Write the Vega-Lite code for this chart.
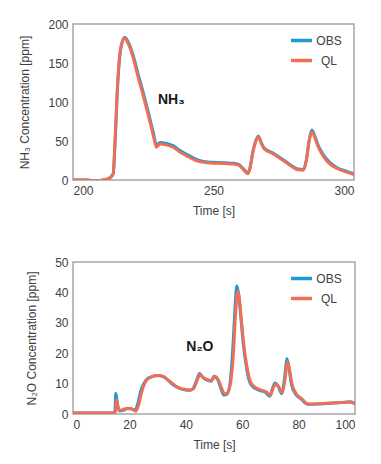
{
  "$schema": "https://vega.github.io/schema/vega-lite/v6.json",
  "padding": {"left": 18, "top": 17, "right": 5, "bottom": 5},
  "spacing": 38,
  "config": {
    "font": "Liberation Sans",
    "view": {"stroke": "#a6a6a6", "strokeWidth": 1.5},
    "axis": {"grid": false, "domain": false, "ticks": false, "labelFontSize": 12, "labelColor": "#404040", "titleFontSize": 12, "titleFontWeight": "normal", "titleColor": "#404040", "labelPadding": 5},
    "axisY": {"titlePadding": 16},
    "axisX": {"titlePadding": 9},
    "legend": {"orient": "none", "legendX": 216, "legendY": 4, "title": null, "symbolType": "stroke", "symbolSize": 441, "symbolStrokeWidth": 3.5, "labelFontSize": 12, "labelColor": "#404040", "rowPadding": -9, "labelOffset": 15, "labelAlign": "center"}
  },
  "datasets": {
    "nh3": [
      {"t":200,"c":0,"s":"OBS"},{"t":205,"c":0,"s":"OBS"},{"t":208,"c":-1,"s":"OBS"},{"t":210,"c":-0.5,"s":"OBS"},{"t":212,"c":1,"s":"OBS"},{"t":213.5,"c":4,"s":"OBS"},{"t":214.3,"c":8,"s":"OBS"},{"t":215,"c":50,"s":"OBS"},{"t":216,"c":128,"s":"OBS"},{"t":217,"c":168,"s":"OBS"},{"t":218.4,"c":183,"s":"OBS"},{"t":219.5,"c":178,"s":"OBS"},{"t":221.4,"c":160,"s":"OBS"},{"t":223,"c":138,"s":"OBS"},{"t":225,"c":112,"s":"OBS"},{"t":227,"c":84,"s":"OBS"},{"t":228.5,"c":62,"s":"OBS"},{"t":229.7,"c":45,"s":"OBS"},{"t":231,"c":48,"s":"OBS"},{"t":233,"c":47,"s":"OBS"},{"t":235.6,"c":44,"s":"OBS"},{"t":238,"c":38,"s":"OBS"},{"t":240.4,"c":33,"s":"OBS"},{"t":243,"c":28,"s":"OBS"},{"t":245,"c":25,"s":"OBS"},{"t":248,"c":23,"s":"OBS"},{"t":251,"c":22.5,"s":"OBS"},{"t":254,"c":22,"s":"OBS"},{"t":257,"c":21.5,"s":"OBS"},{"t":259,"c":20,"s":"OBS"},{"t":260.5,"c":15,"s":"OBS"},{"t":262.2,"c":9,"s":"OBS"},{"t":263,"c":16,"s":"OBS"},{"t":264,"c":36,"s":"OBS"},{"t":265,"c":50,"s":"OBS"},{"t":266,"c":56,"s":"OBS"},{"t":267,"c":48,"s":"OBS"},{"t":268,"c":41,"s":"OBS"},{"t":271,"c":35,"s":"OBS"},{"t":274,"c":28,"s":"OBS"},{"t":276,"c":23,"s":"OBS"},{"t":278,"c":18,"s":"OBS"},{"t":280,"c":14,"s":"OBS"},{"t":282,"c":13.5,"s":"OBS"},{"t":283,"c":25,"s":"OBS"},{"t":284,"c":50,"s":"OBS"},{"t":285,"c":64,"s":"OBS"},{"t":286,"c":57,"s":"OBS"},{"t":287.3,"c":44,"s":"OBS"},{"t":289,"c":33,"s":"OBS"},{"t":291,"c":24,"s":"OBS"},{"t":293.8,"c":16,"s":"OBS"},{"t":297.4,"c":11,"s":"OBS"},{"t":300,"c":8,"s":"OBS"},
      {"t":200,"c":0,"s":"QL"},{"t":205,"c":0,"s":"QL"},{"t":208,"c":-1,"s":"QL"},{"t":210,"c":-0.5,"s":"QL"},{"t":212,"c":1,"s":"QL"},{"t":213.5,"c":4,"s":"QL"},{"t":214.3,"c":8,"s":"QL"},{"t":215,"c":55,"s":"QL"},{"t":216,"c":132,"s":"QL"},{"t":217,"c":170,"s":"QL"},{"t":218.3,"c":182,"s":"QL"},{"t":219.5,"c":176,"s":"QL"},{"t":221.4,"c":157,"s":"QL"},{"t":223,"c":134,"s":"QL"},{"t":225,"c":108,"s":"QL"},{"t":227,"c":80,"s":"QL"},{"t":228.5,"c":58,"s":"QL"},{"t":229.7,"c":42,"s":"QL"},{"t":231,"c":46,"s":"QL"},{"t":233,"c":45,"s":"QL"},{"t":235.6,"c":42,"s":"QL"},{"t":238,"c":36,"s":"QL"},{"t":240.4,"c":31,"s":"QL"},{"t":243,"c":26,"s":"QL"},{"t":245,"c":23.5,"s":"QL"},{"t":248,"c":22,"s":"QL"},{"t":251,"c":21.5,"s":"QL"},{"t":254,"c":21,"s":"QL"},{"t":257,"c":20.5,"s":"QL"},{"t":259,"c":19,"s":"QL"},{"t":260.5,"c":14,"s":"QL"},{"t":262.2,"c":8,"s":"QL"},{"t":263,"c":15,"s":"QL"},{"t":264,"c":35,"s":"QL"},{"t":265,"c":49,"s":"QL"},{"t":266,"c":55,"s":"QL"},{"t":267,"c":47,"s":"QL"},{"t":268,"c":40,"s":"QL"},{"t":271,"c":34,"s":"QL"},{"t":274,"c":27,"s":"QL"},{"t":276,"c":22,"s":"QL"},{"t":278,"c":17,"s":"QL"},{"t":280,"c":13,"s":"QL"},{"t":282,"c":12.5,"s":"QL"},{"t":283,"c":24,"s":"QL"},{"t":284,"c":49,"s":"QL"},{"t":285,"c":62,"s":"QL"},{"t":286,"c":55,"s":"QL"},{"t":287.3,"c":42,"s":"QL"},{"t":289,"c":31,"s":"QL"},{"t":291,"c":22,"s":"QL"},{"t":293.8,"c":15,"s":"QL"},{"t":297.4,"c":10,"s":"QL"},{"t":300,"c":7,"s":"QL"}
    ],
    "n2o": [
      {"t":0,"c":0.3,"s":"OBS"},{"t":10,"c":0.3,"s":"OBS"},{"t":14.8,"c":0.3,"s":"OBS"},{"t":15.2,"c":6.8,"s":"OBS"},{"t":15.8,"c":3,"s":"OBS"},{"t":16.5,"c":1,"s":"OBS"},{"t":18,"c":1.3,"s":"OBS"},{"t":19.5,"c":1.8,"s":"OBS"},{"t":21,"c":1.6,"s":"OBS"},{"t":22,"c":1.2,"s":"OBS"},{"t":23,"c":3.5,"s":"OBS"},{"t":24,"c":7.5,"s":"OBS"},{"t":25,"c":9.8,"s":"OBS"},{"t":26,"c":11.3,"s":"OBS"},{"t":28,"c":12.3,"s":"OBS"},{"t":30,"c":12.7,"s":"OBS"},{"t":32,"c":12.3,"s":"OBS"},{"t":34,"c":10.8,"s":"OBS"},{"t":36,"c":9.3,"s":"OBS"},{"t":38.5,"c":8.2,"s":"OBS"},{"t":41.4,"c":7.8,"s":"OBS"},{"t":42.6,"c":8.4,"s":"OBS"},{"t":43.8,"c":11,"s":"OBS"},{"t":44.9,"c":13.3,"s":"OBS"},{"t":46,"c":12,"s":"OBS"},{"t":48,"c":11,"s":"OBS"},{"t":49,"c":10.8,"s":"OBS"},{"t":50,"c":12.4,"s":"OBS"},{"t":51.2,"c":11.5,"s":"OBS"},{"t":52.4,"c":8.5,"s":"OBS"},{"t":53.5,"c":6.2,"s":"OBS"},{"t":54.6,"c":6.5,"s":"OBS"},{"t":55.8,"c":11,"s":"OBS"},{"t":56.7,"c":22,"s":"OBS"},{"t":57.4,"c":34,"s":"OBS"},{"t":58.1,"c":42.2,"s":"OBS"},{"t":58.8,"c":39,"s":"OBS"},{"t":59.6,"c":31,"s":"OBS"},{"t":60.5,"c":22,"s":"OBS"},{"t":61.4,"c":16,"s":"OBS"},{"t":62.3,"c":11.5,"s":"OBS"},{"t":63.5,"c":9.2,"s":"OBS"},{"t":66,"c":7.8,"s":"OBS"},{"t":68.3,"c":7.1,"s":"OBS"},{"t":69.8,"c":5.8,"s":"OBS"},{"t":70.8,"c":8.6,"s":"OBS"},{"t":71.7,"c":10.2,"s":"OBS"},{"t":72.7,"c":9.2,"s":"OBS"},{"t":74,"c":6.7,"s":"OBS"},{"t":75,"c":11.5,"s":"OBS"},{"t":75.9,"c":18.2,"s":"OBS"},{"t":76.6,"c":15,"s":"OBS"},{"t":77.4,"c":10,"s":"OBS"},{"t":79,"c":6.4,"s":"OBS"},{"t":80.8,"c":5,"s":"OBS"},{"t":83.2,"c":3.2,"s":"OBS"},{"t":87.3,"c":3.3,"s":"OBS"},{"t":92,"c":3.6,"s":"OBS"},{"t":96.7,"c":3.9,"s":"OBS"},{"t":98.5,"c":4,"s":"OBS"},{"t":100,"c":3.4,"s":"OBS"},
      {"t":0,"c":0.3,"s":"QL"},{"t":10,"c":0.3,"s":"QL"},{"t":15,"c":0.3,"s":"QL"},{"t":15.4,"c":4.8,"s":"QL"},{"t":16,"c":2.2,"s":"QL"},{"t":16.7,"c":1.2,"s":"QL"},{"t":18,"c":1.6,"s":"QL"},{"t":19.5,"c":1.9,"s":"QL"},{"t":21,"c":1.6,"s":"QL"},{"t":22.3,"c":0.9,"s":"QL"},{"t":23.3,"c":3,"s":"QL"},{"t":24.3,"c":7,"s":"QL"},{"t":25.3,"c":9.8,"s":"QL"},{"t":26.3,"c":11.3,"s":"QL"},{"t":28,"c":12.3,"s":"QL"},{"t":30,"c":12.7,"s":"QL"},{"t":32,"c":12.4,"s":"QL"},{"t":34,"c":11,"s":"QL"},{"t":36,"c":9.5,"s":"QL"},{"t":38.5,"c":8.3,"s":"QL"},{"t":41.4,"c":7.9,"s":"QL"},{"t":42.8,"c":8.4,"s":"QL"},{"t":44,"c":11,"s":"QL"},{"t":45.1,"c":13,"s":"QL"},{"t":46.2,"c":12,"s":"QL"},{"t":48,"c":11.2,"s":"QL"},{"t":49.2,"c":11,"s":"QL"},{"t":50.2,"c":12.3,"s":"QL"},{"t":51.4,"c":11.5,"s":"QL"},{"t":52.6,"c":8.8,"s":"QL"},{"t":53.7,"c":6.6,"s":"QL"},{"t":54.8,"c":7,"s":"QL"},{"t":56,"c":11,"s":"QL"},{"t":56.9,"c":20,"s":"QL"},{"t":57.6,"c":32,"s":"QL"},{"t":58.4,"c":40.5,"s":"QL"},{"t":59.1,"c":37,"s":"QL"},{"t":59.9,"c":29,"s":"QL"},{"t":60.8,"c":21,"s":"QL"},{"t":61.7,"c":15.5,"s":"QL"},{"t":62.6,"c":11.5,"s":"QL"},{"t":63.8,"c":9.4,"s":"QL"},{"t":66,"c":8.1,"s":"QL"},{"t":68.5,"c":7.3,"s":"QL"},{"t":70,"c":6.2,"s":"QL"},{"t":71,"c":8.6,"s":"QL"},{"t":71.9,"c":9.8,"s":"QL"},{"t":72.9,"c":9,"s":"QL"},{"t":74.2,"c":7.1,"s":"QL"},{"t":75.2,"c":11.5,"s":"QL"},{"t":76.1,"c":17.2,"s":"QL"},{"t":76.8,"c":14.5,"s":"QL"},{"t":77.6,"c":10.2,"s":"QL"},{"t":79.2,"c":6.6,"s":"QL"},{"t":81,"c":5.1,"s":"QL"},{"t":83.4,"c":3.3,"s":"QL"},{"t":87.3,"c":3.4,"s":"QL"},{"t":92,"c":3.6,"s":"QL"},{"t":96.7,"c":3.9,"s":"QL"},{"t":98.5,"c":3.9,"s":"QL"},{"t":100,"c":3.3,"s":"QL"}
    ]
  },
  "vconcat": [
    {
      "width": 281,
      "height": 156,
      "layer": [
        {
          "data": {"name": "nh3"},
          "mark": {"type": "line", "strokeWidth": 3, "clip": true, "interpolate": "monotone"},
          "encoding": {
            "x": {"field": "t", "type": "quantitative", "scale": {"domain": [200, 300], "nice": false}, "axis": {"values": [200, 250, 300]}, "title": "Time [s]"},
            "y": {"field": "c", "type": "quantitative", "scale": {"domain": [0, 200], "nice": false}, "axis": {"values": [0, 50, 100, 150, 200]}, "title": "NH₃ Concentration [ppm]"},
            "color": {"field": "s", "type": "nominal", "scale": {"domain": ["OBS", "QL"], "range": ["#1a9bd7", "#f06e55"]}},
            "detail": {"field": "s"}
          }
        },
        {
          "data": {"values": [{"t": 235, "c": 102, "label": "NH₃"}]},
          "mark": {"type": "text", "fontSize": 14, "fontWeight": "bold", "color": "#1a1a1a", "font": "Liberation Sans"},
          "encoding": {
            "x": {"field": "t", "type": "quantitative", "axis": {"values": [200, 250, 300]}, "title": "Time [s]"},
            "y": {"field": "c", "type": "quantitative", "axis": {"values": [0, 50, 100, 150, 200]}, "title": "NH₃ Concentration [ppm]"},
            "text": {"field": "label"}
          }
        }
      ]
    },
    {
      "width": 282,
      "height": 152,
      "layer": [
        {
          "data": {"name": "n2o"},
          "mark": {"type": "line", "strokeWidth": 3, "clip": true, "interpolate": "monotone"},
          "encoding": {
            "x": {"field": "t", "type": "quantitative", "scale": {"domain": [0, 100], "nice": false}, "axis": {"values": [0, 20, 40, 60, 80, 100]}, "title": "Time [s]"},
            "y": {"field": "c", "type": "quantitative", "scale": {"domain": [0, 50], "nice": false}, "axis": {"values": [0, 10, 20, 30, 40, 50]}, "title": "N₂O Concentration [ppm]"},
            "color": {"field": "s", "type": "nominal", "scale": {"domain": ["OBS", "QL"], "range": ["#1a9bd7", "#f06e55"]}},
            "detail": {"field": "s"}
          }
        },
        {
          "data": {"values": [{"t": 45, "c": 22, "label": "N₂O"}]},
          "mark": {"type": "text", "fontSize": 14, "fontWeight": "bold", "color": "#1a1a1a", "font": "Liberation Sans"},
          "encoding": {
            "x": {"field": "t", "type": "quantitative", "axis": {"values": [0, 20, 40, 60, 80, 100]}, "title": "Time [s]"},
            "y": {"field": "c", "type": "quantitative", "axis": {"values": [0, 10, 20, 30, 40, 50]}, "title": "N₂O Concentration [ppm]"},
            "text": {"field": "label"}
          }
        }
      ]
    }
  ],
  "resolve": {"scale": {"x": "independent", "y": "independent", "color": "independent"}, "legend": {"color": "independent"}}
}
